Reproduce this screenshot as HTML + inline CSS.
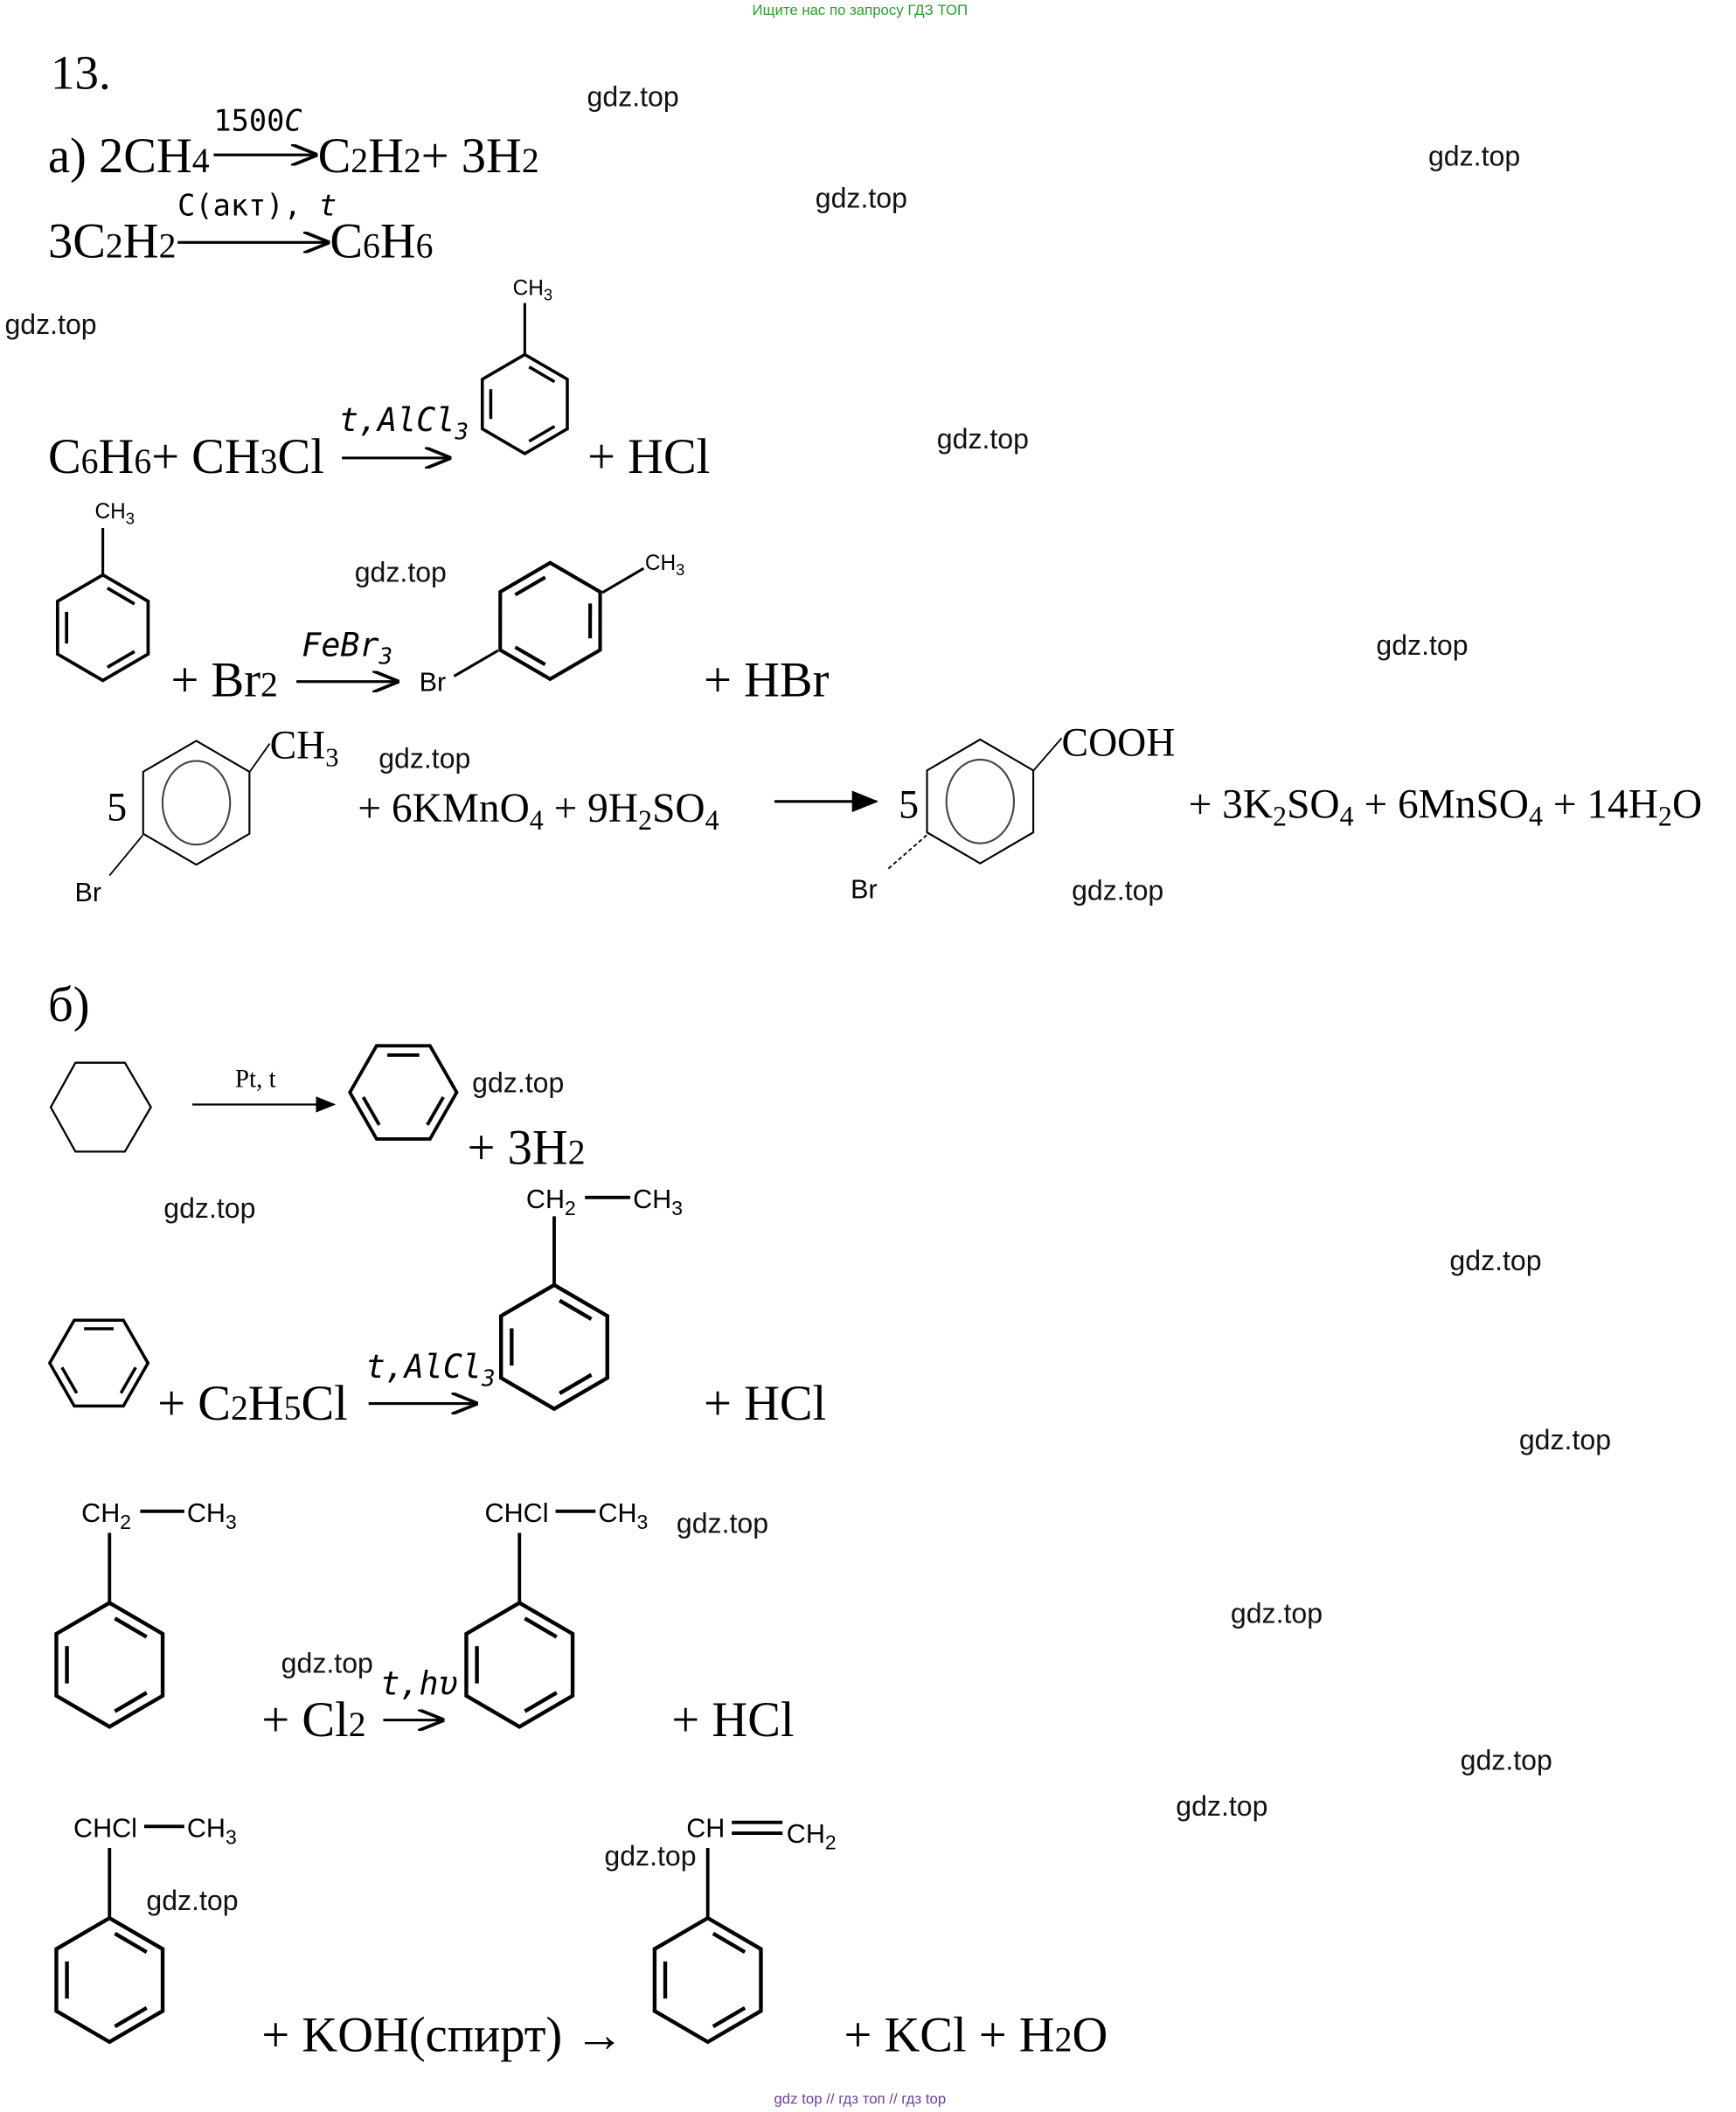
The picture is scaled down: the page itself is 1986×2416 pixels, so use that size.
<!DOCTYPE html>
<html><head><meta charset="utf-8"><style>
html,body{margin:0;padding:0;background:#fff;width:1986px;height:2416px;overflow:hidden}
svg{display:block}
.s{font-family:"Liberation Serif","DejaVu Serif",serif;fill:#000}
.a{font-family:"Liberation Sans","DejaVu Sans",sans-serif;fill:#000}
.w{font-family:"Liberation Sans",sans-serif;font-size:21px;fill:#111;text-anchor:middle}
.m{font-family:"DejaVu Sans Mono","Liberation Mono",monospace;fill:#000}
line,polyline,polygon,circle{stroke:#000;fill:none}
</style></head><body>
<svg width="1986" height="2416" viewBox="0 0 1300 1568" preserveAspectRatio="none" xmlns="http://www.w3.org/2000/svg">
<defs>
<g id="bz" stroke-width="2.5">
<polygon points="0,-40 34.6,-20 34.6,20 0,40 -34.6,20 -34.6,-20" stroke-width="2.5"/>
<line x1="3.5" y1="-30" x2="24.2" y2="-18" stroke-width="2.5"/>
<line x1="24.2" y1="18" x2="3.5" y2="30" stroke-width="2.5"/>
<line x1="-27.7" y1="12" x2="-27.7" y2="-12" stroke-width="2.5"/>
</g>
<g id="bc">
<polygon points="0,-40 34.6,-20 34.6,20 0,40 -34.6,20 -34.6,-20" stroke-width="1.2" stroke="#444"/>
<ellipse cx="0" cy="0" rx="22" ry="27" stroke="#444" stroke-width="1.2" fill="none"/>
</g>
<marker id="ar" markerWidth="10" markerHeight="8" refX="9" refY="4" orient="auto"><path d="M0,0 L10,4 L0,8" fill="none" stroke="#000" stroke-width="1.2"/></marker>
<marker id="af" markerWidth="10" markerHeight="8" refX="9" refY="4" orient="auto"><path d="M0,0 L10,4 L0,8z" fill="#000"/></marker>
</defs>

<text x="644" y="11" font-family="Liberation Sans,sans-serif" font-size="11" fill="#2a9d2a" text-anchor="middle">Ищите нас по запросу ГДЗ ТОП</text>
<text x="38" y="66" class="s" font-size="36">13.</text>

<text x="36" y="128" class="s" font-size="37">а) 2CH<tspan font-size="26">4</tspan></text>
<line x1="160" y1="115" x2="236" y2="115" stroke-width="2" marker-end="url(#ar)"/>
<text x="160" y="97" class="m" font-size="22">1500<tspan font-style="italic">C</tspan></text>
<text x="238" y="128" class="s" font-size="37">C<tspan font-size="26">2</tspan>H<tspan font-size="26">2</tspan>+ 3H<tspan font-size="26">2</tspan></text>

<text x="36" y="191" class="s" font-size="37">3C<tspan font-size="26">2</tspan>H<tspan font-size="26">2</tspan></text>
<line x1="133" y1="180" x2="245" y2="180" stroke-width="2" marker-end="url(#ar)"/>
<text x="133" y="160" class="m" font-size="22">C(акт), <tspan font-style="italic">t</tspan></text>
<text x="247" y="191" class="s" font-size="37">C<tspan font-size="26">6</tspan>H<tspan font-size="26">6</tspan></text>

<text x="36" y="351" class="s" font-size="37">C<tspan font-size="26">6</tspan>H<tspan font-size="26">6</tspan>+ CH<tspan font-size="26">3</tspan>Cl</text>
<line x1="256" y1="340" x2="336" y2="340" stroke-width="2" marker-end="url(#ar)"/>
<text x="254" y="320" class="m" font-size="24" font-style="italic">t,AlCl<tspan font-size="17" dy="6">3</tspan></text>
<use href="#bz" transform="translate(393,300) scale(0.92)"/>
<line x1="393" y1="263" x2="393" y2="225" stroke-width="2"/>
<text x="384" y="219" class="a" font-size="16">CH<tspan font-size="12" dy="4">3</tspan></text>
<text x="440" y="351" class="s" font-size="37">+ HCl</text>

<use href="#bz" transform="translate(77,466) scale(0.98)"/>
<line x1="77" y1="427" x2="77" y2="392" stroke-width="2"/>
<text x="71" y="385" class="a" font-size="16">CH<tspan font-size="12" dy="4">3</tspan></text>
<text x="128" y="517" class="s" font-size="37">+ Br<tspan font-size="26">2</tspan></text>
<line x1="222" y1="506" x2="297" y2="506" stroke-width="2" marker-end="url(#ar)"/>
<text x="226" y="487" class="m" font-size="24" font-style="italic">FeBr<tspan font-size="17" dy="6">3</tspan></text>
<use href="#bz" transform="translate(412,461) rotate(60) scale(1.08)"/>
<line x1="373" y1="483" x2="340" y2="502" stroke-width="2"/>
<text x="314" y="513" class="a" font-size="20">Br</text>
<line x1="451" y1="440" x2="482" y2="422" stroke-width="2"/>
<text x="483" y="423" class="a" font-size="16">CH<tspan font-size="12" dy="4">3</tspan></text>
<text x="527" y="517" class="s" font-size="37">+ HBr</text>

<text x="80" y="609" class="s" font-size="30" fill="#333">5</text>
<use href="#bc" transform="translate(147,596) scale(1.15)"/>
<line x1="187" y1="573" x2="202" y2="552" stroke="#444" stroke-width="1.2"/>
<text x="202" y="563" class="s" font-size="30" fill="#333">CH<tspan font-size="20" dy="6">3</tspan></text>
<line x1="107" y1="620" x2="82" y2="650" stroke="#444" stroke-width="1.2"/>
<text x="56" y="669" class="a" font-size="20" fill="#222">Br</text>
<text x="268" y="610" class="s" font-size="31" fill="#333">+ 6KMnO<tspan font-size="21" dy="6">4</tspan><tspan dy="-6"> + 9H</tspan><tspan font-size="21" dy="6">2</tspan><tspan dy="-6">SO</tspan><tspan font-size="21" dy="6">4</tspan></text>
<line x1="580" y1="595" x2="656" y2="595" stroke-width="2" marker-end="url(#af)"/>
<text x="673" y="607" class="s" font-size="30" fill="#333">5</text>
<use href="#bc" transform="translate(734,595) scale(1.15)"/>
<line x1="774" y1="572" x2="795" y2="548" stroke="#444" stroke-width="1.2"/>
<text x="795" y="561" class="s" font-size="30" fill="#333">COOH</text>
<line x1="694" y1="620" x2="664" y2="646" stroke="#444" stroke-width="1.2" stroke-dasharray="3,2"/>
<text x="637" y="667" class="a" font-size="20" fill="#222">Br</text>
<text x="890" y="607" class="s" font-size="31" fill="#333">+ 3K<tspan font-size="21" dy="6">2</tspan><tspan dy="-6">SO</tspan><tspan font-size="21" dy="6">4</tspan><tspan dy="-6"> + 6MnSO</tspan><tspan font-size="21" dy="6">4</tspan><tspan dy="-6"> + 14H</tspan><tspan font-size="21" dy="6">2</tspan><tspan dy="-6">O</tspan></text>

<text x="36" y="758" class="s" font-size="37">б)</text>
<polygon points="38,822 56.5,789 93.5,789 113,822 93.5,855 56.5,855" stroke-width="1.5"/>
<line x1="144" y1="820" x2="250" y2="820" stroke-width="1.5" marker-end="url(#af)"/>
<text x="176" y="807" class="s" font-size="19">Pt, t</text>
<use href="#bz" transform="translate(302,811) rotate(90) scale(1.0)"/>
<text x="350" y="864" class="s" font-size="37">+ 3H<tspan font-size="26">2</tspan></text>

<use href="#bz" transform="translate(74,1012) rotate(90) scale(0.92)"/>
<text x="118" y="1054" class="s" font-size="37">+ C<tspan font-size="26">2</tspan>H<tspan font-size="26">5</tspan>Cl</text>
<line x1="276" y1="1042" x2="356" y2="1042" stroke-width="2" marker-end="url(#ar)"/>
<text x="274" y="1023" class="m" font-size="24" font-style="italic">t,AlCl<tspan font-size="17" dy="6">3</tspan></text>
<use href="#bz" transform="translate(415,1000) scale(1.15)"/>
<line x1="415" y1="954" x2="415" y2="903" stroke-width="2.5"/>
<text x="394" y="897" class="a" font-size="20">CH<tspan font-size="15" dy="5">2</tspan></text>
<line x1="438" y1="889" x2="472" y2="889" stroke-width="2.5"/>
<text x="474" y="897" class="a" font-size="20">CH<tspan font-size="15" dy="5">3</tspan></text>
<text x="527" y="1054" class="s" font-size="37">+ HCl</text>

<use href="#bz" transform="translate(82,1236) scale(1.15)"/>
<line x1="82" y1="1190" x2="82" y2="1138" stroke-width="2.5"/>
<text x="61" y="1130" class="a" font-size="20">CH<tspan font-size="15" dy="5">2</tspan></text>
<line x1="105" y1="1122" x2="138" y2="1122" stroke-width="2.5"/>
<text x="140" y="1130" class="a" font-size="20">CH<tspan font-size="15" dy="5">3</tspan></text>
<text x="196" y="1289" class="s" font-size="37">+ Cl<tspan font-size="26">2</tspan></text>
<line x1="287" y1="1277" x2="331" y2="1277" stroke-width="2" marker-end="url(#ar)"/>
<text x="285" y="1258" class="m" font-size="24" font-style="italic">t,hυ</text>
<use href="#bz" transform="translate(389,1236) scale(1.15)"/>
<line x1="389" y1="1190" x2="389" y2="1138" stroke-width="2.5"/>
<text x="363" y="1130" class="a" font-size="20">CHCl</text>
<line x1="416" y1="1122" x2="446" y2="1122" stroke-width="2.5"/>
<text x="448" y="1130" class="a" font-size="20">CH<tspan font-size="15" dy="5">3</tspan></text>
<text x="503" y="1289" class="s" font-size="37">+ HCl</text>

<use href="#bz" transform="translate(82,1470) scale(1.15)"/>
<line x1="82" y1="1424" x2="82" y2="1372" stroke-width="2.5"/>
<text x="55" y="1364" class="a" font-size="20">CHCl</text>
<line x1="108" y1="1356" x2="138" y2="1356" stroke-width="2.5"/>
<text x="140" y="1364" class="a" font-size="20">CH<tspan font-size="15" dy="5">3</tspan></text>
<text x="196" y="1523" class="s" font-size="37">+ KOH(спирт) →</text>
<use href="#bz" transform="translate(530,1470) scale(1.15)"/>
<line x1="530" y1="1424" x2="530" y2="1372" stroke-width="2.5"/>
<text x="514" y="1364" class="a" font-size="20">CH</text>
<line x1="548" y1="1353" x2="586" y2="1353" stroke-width="2.5"/>
<line x1="548" y1="1361" x2="586" y2="1361" stroke-width="2.5"/>
<text x="589" y="1368" class="a" font-size="20">CH<tspan font-size="15" dy="5">2</tspan></text>
<text x="632" y="1523" class="s" font-size="37">+ KCl + H<tspan font-size="26">2</tspan>O</text>

<text x="474" y="79" class="w">gdz.top</text>
<text x="1104" y="123" class="w">gdz.top</text>
<text x="645" y="154" class="w">gdz.top</text>
<text x="38" y="248" class="w">gdz.top</text>
<text x="736" y="333" class="w">gdz.top</text>
<text x="300" y="432" class="w">gdz.top</text>
<text x="1065" y="486" class="w">gdz.top</text>
<text x="318" y="570" class="w">gdz.top</text>
<text x="837" y="668" class="w">gdz.top</text>
<text x="388" y="811" class="w">gdz.top</text>
<text x="157" y="904" class="w">gdz.top</text>
<text x="1120" y="943" class="w">gdz.top</text>
<text x="1172" y="1076" class="w">gdz.top</text>
<text x="541" y="1138" class="w">gdz.top</text>
<text x="956" y="1205" class="w">gdz.top</text>
<text x="245" y="1242" class="w">gdz.top</text>
<text x="1128" y="1314" class="w">gdz.top</text>
<text x="915" y="1348" class="w">gdz.top</text>
<text x="487" y="1385" class="w">gdz.top</text>
<text x="144" y="1418" class="w">gdz.top</text>

<text x="644" y="1562" font-family="Liberation Sans,sans-serif" font-size="11" fill="#6a3fa0" text-anchor="middle">gdz top  //  гдз топ  //  гдз top</text>
</svg>
</body></html>
